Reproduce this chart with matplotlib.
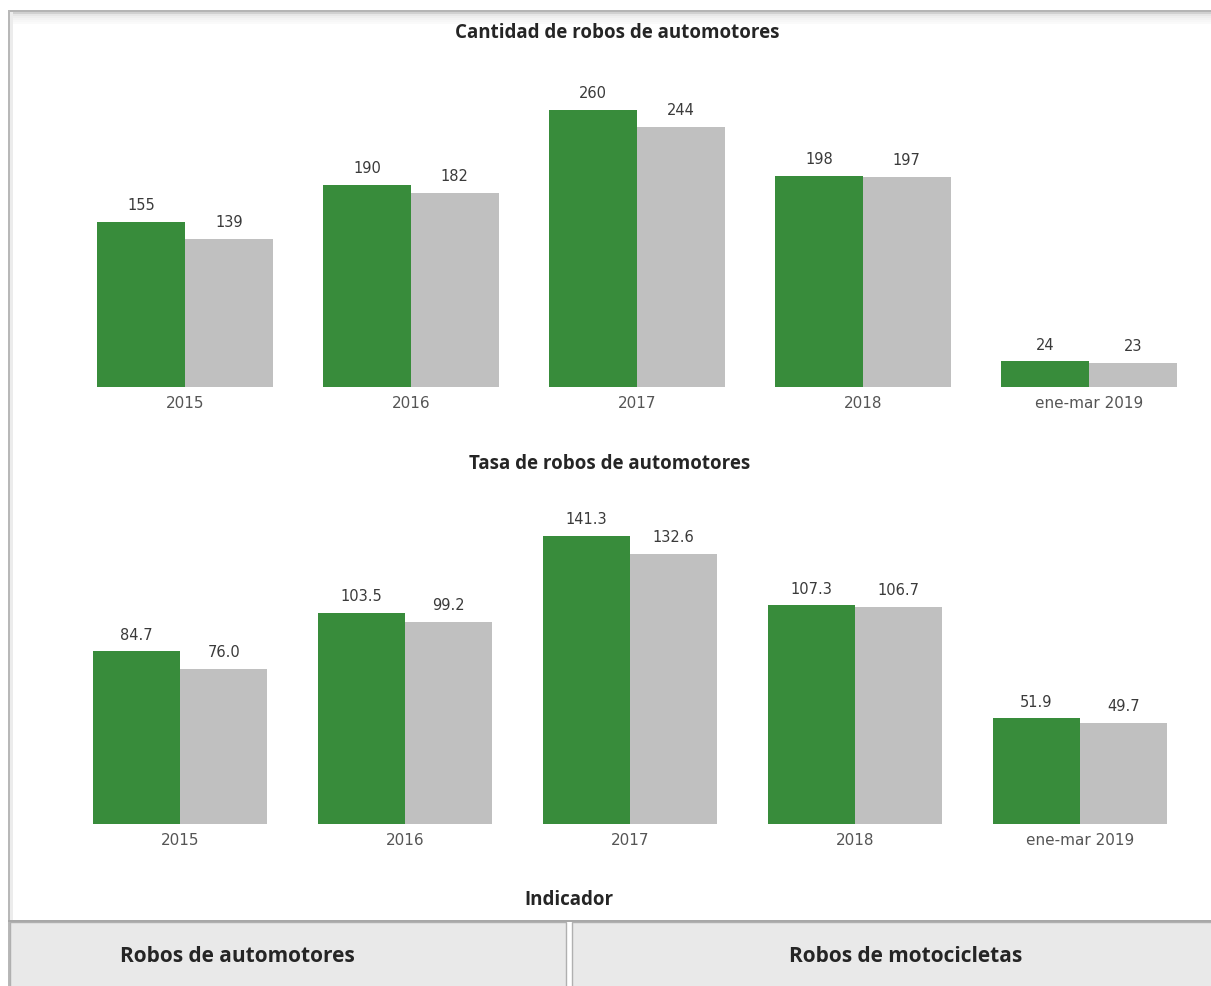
import matplotlib
matplotlib.use("Agg")
import matplotlib.pyplot as plt
from matplotlib.patches import Rectangle
import numpy as np

categories = ["2015", "2016", "2017", "2018", "ene-mar 2019"]
cantidad_a = [155, 190, 260, 198, 24]
cantidad_b = [139, 182, 244, 197, 23]
tasa_a = [84.7, 103.5, 141.3, 107.3, 51.9]
tasa_b = [76.0, 99.2, 132.6, 106.7, 49.7]

title_top = "Cantidad de robos de automotores"
title_bot = "Tasa de robos de automotores"
slicer_title = "Indicador"
buttons = ["Robos de automotores", "Robos de motocicletas"]

GREEN = "#388c3b"
GREY = "#c0c0c0"
TXT = "#3a3a3a"

W, H = 1211, 987
fig = plt.figure(figsize=(W / 100, H / 100), dpi=100)
fig.patch.set_facecolor("white")

def px_axes(x0, y0, x1, y1):
    return fig.add_axes([x0 / W, 1 - y1 / H, (x1 - x0) / W, (y1 - y0) / H])

# background frame
bg = fig.add_axes([0, 0, 1, 1])
bg.set_xlim(0, W)
bg.set_ylim(H, 0)
bg.axis("off")
bg.add_patch(Rectangle((8, 11), W - 8, H - 11, facecolor="white", edgecolor="none"))
for i, c in enumerate(["#b4b4b4", "#d0d0d0", "#e6e6e6", "#eeeeee", "#f3f3f3", "#f7f7f7", "#fafafa"]):
    bg.add_patch(Rectangle((8, 11 + i * 2), W - 8, 2, facecolor=c, edgecolor="none"))
bg.add_patch(Rectangle((8, 11), 2, H - 11, facecolor="#b8b8b8", edgecolor="none"))
bg.add_patch(Rectangle((10, 13), 3, H - 13, facecolor="#ececec", edgecolor="none"))

# buttons
bg.add_patch(Rectangle((8, 921), W - 8, 2, facecolor="#a8a8a8", edgecolor="none"))
bg.add_patch(Rectangle((10, 923), 556, 66, facecolor="#e9e9e9", edgecolor="#b0b0b0", lw=1))
bg.add_patch(Rectangle((572, 923), 645, 66, facecolor="#e9e9e9", edgecolor="#b0b0b0", lw=1))
bkw = dict(ha="center", va="center", fontweight="bold", color="#252525", family="Open Sans")
bg.text(237, 957, buttons[0], fontsize=15, **bkw)
bg.text(906, 957, buttons[1], fontsize=15, **bkw)
bg.text(569, 900, slicer_title, fontsize=13.5, **bkw)
bg.text(617, 33, title_top, fontsize=13.5, **bkw)
bg.text(610, 464, title_bot, fontsize=13.5, **bkw)

def panel(ax, a, b, ymax, fmt):
    x = np.arange(len(categories))
    w = 0.388
    ax.bar(x - w / 2, a, width=w, color=GREEN, edgecolor="none")
    ax.bar(x + w / 2, b, width=w, color=GREY, edgecolor="none")
    ax.set_xlim(-0.5, len(categories) - 0.5)
    ax.set_ylim(0, ymax)
    ax.axis("off")
    for xi, va_, vb_ in zip(x, a, b):
        ax.annotate(fmt.format(va_), (xi - w / 2, va_), xytext=(0, 7), textcoords="offset points",
                    ha="center", va="bottom", fontsize=10.5, color=TXT, family="DejaVu Sans")
        ax.annotate(fmt.format(vb_), (xi + w / 2, vb_), xytext=(0, 7), textcoords="offset points",
                    ha="center", va="bottom", fontsize=10.5, color=TXT, family="DejaVu Sans")
        ax.annotate(categories[xi], (xi, 0), xytext=(0, -6), textcoords="offset points",
                    ha="center", va="top", fontsize=11, color="#555555", family="DejaVu Sans")

ax1 = px_axes(72, 60, 1202, 388)
panel(ax1, cantidad_a, cantidad_b, 308, "{:d}")
ax2 = px_axes(67.5, 500, 1192.5, 825)
panel(ax2, tasa_a, tasa_b, 159.5, "{:.1f}")

fig.savefig("out.png", dpi=100, facecolor="white")
